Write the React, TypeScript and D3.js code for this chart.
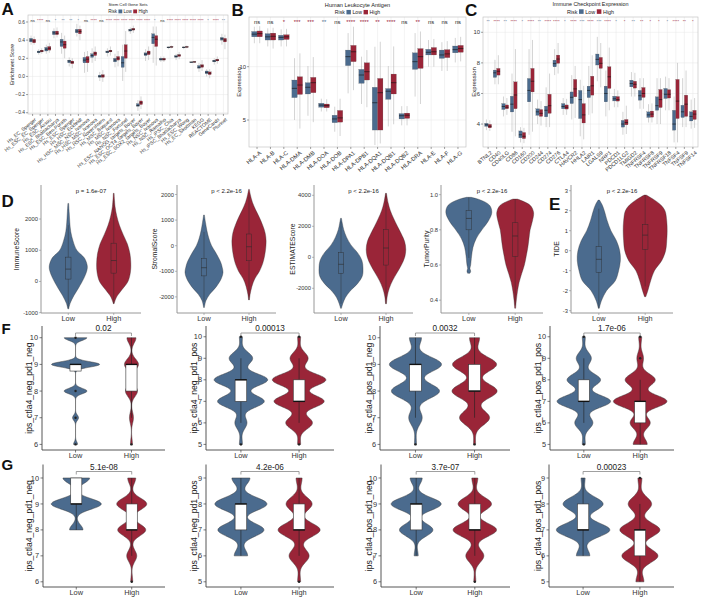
import React from "react";
import * as d3 from "d3";

const FONT = "'Liberation Sans', Arial, Helvetica, sans-serif";
const LOW_COL = "#4B6B8E";
const HIGH_COL = "#9A2538";
const GROUPS = ["Low", "High"];

/* ---------------- A : Stem Cell Gene Sets ---------------- */
const A_SETS = [
  "Hs_EC_Sperger", "Hs_ESC_EC_Sperger", "Hs_ESC_Assou", "Hs_ESC_Bhattacharya", "Hs_ESC_Ben-Porath",
  "Hs_ESC_Sperger", "Hs_HSC_Eckfeldt", "Hs_HSC_MSC_NSC_Ivanova", "Hs_HSC_MSC_Ivanova", "Hs_HSC_Novershtern",
  "Hs_MSC_Boquest", "Hs_MSC_Ivanova", "Hs_NSC_Fortunel", "Hs_ESC_NANOG_targets_Boyer", "Hs_ESC_OCT4_targets_Boyer",
  "Hs_ESC_SOX2_targets_Boyer", "Hs_NSC_Ivanova", "Hs_NSC_Ramalho", "Hs_iPSC_Chia", "Hs_iPSC_Bhattacharya",
  "Hs_ESC_Wong", "Hs_EC_Skottman", "KEGG", "REACTOME", "GeneCards", "Plurinet",
];
// [whisker low, q1, median, q3, whisker high]
const A_LOW = [
  [0.35, 0.38, 0.40, 0.42, 0.45], [0.24, 0.26, 0.27, 0.28, 0.30], [0.25, 0.28, 0.30, 0.32, 0.35],
  [0.42, 0.46, 0.48, 0.50, 0.53], [0.25, 0.33, 0.38, 0.41, 0.48], [0.11, 0.15, 0.17, 0.18, 0.21],
  [0.44, 0.48, 0.50, 0.52, 0.58], [0.04, 0.15, 0.18, 0.21, 0.27], [0.15, 0.21, 0.23, 0.25, 0.31],
  [-0.05, -0.01, 0.0, 0.015, 0.05], [0.22, 0.26, 0.27, 0.28, 0.31], [0.10, 0.16, 0.18, 0.20, 0.25],
  [-0.05, 0.10, 0.15, 0.22, 0.35], [0.47, 0.50, 0.51, 0.52, 0.54], [-0.38, -0.33, -0.32, -0.30, -0.26],
  [0.17, 0.23, 0.245, 0.26, 0.30], [0.15, 0.36, 0.43, 0.47, 0.55], [0.16, 0.18, 0.19, 0.20, 0.22],
  [0.30, 0.315, 0.32, 0.325, 0.33], [0.18, 0.21, 0.22, 0.23, 0.25], [0.30, 0.315, 0.32, 0.325, 0.335],
  [0.15, 0.155, 0.157, 0.16, 0.165], [0.05, 0.09, 0.10, 0.12, 0.15], [0.0, 0.03, 0.045, 0.06, 0.08],
  [0.13, 0.16, 0.17, 0.18, 0.20], [0.35, 0.40, 0.415, 0.43, 0.47],
];
const A_HIGH = [
  [0.35, 0.37, 0.39, 0.41, 0.44], [0.25, 0.27, 0.28, 0.29, 0.31], [0.26, 0.29, 0.31, 0.33, 0.37],
  [0.43, 0.46, 0.475, 0.50, 0.54], [0.20, 0.31, 0.35, 0.39, 0.45], [0.09, 0.14, 0.155, 0.17, 0.20],
  [0.40, 0.47, 0.495, 0.52, 0.56], [0.05, 0.15, 0.19, 0.22, 0.28], [0.17, 0.23, 0.255, 0.27, 0.33],
  [-0.06, -0.01, 0.005, 0.02, 0.07], [0.23, 0.27, 0.28, 0.29, 0.33], [0.11, 0.18, 0.20, 0.22, 0.28],
  [0.05, 0.20, 0.28, 0.35, 0.50], [0.48, 0.51, 0.52, 0.53, 0.56], [-0.36, -0.31, -0.29, -0.27, -0.22],
  [0.18, 0.24, 0.26, 0.28, 0.33], [0.12, 0.33, 0.41, 0.45, 0.55], [0.16, 0.18, 0.19, 0.20, 0.22],
  [0.31, 0.32, 0.325, 0.33, 0.34], [0.19, 0.22, 0.235, 0.24, 0.27], [0.31, 0.32, 0.325, 0.33, 0.34],
  [0.15, 0.155, 0.16, 0.165, 0.17], [0.06, 0.10, 0.115, 0.13, 0.18], [-0.02, 0.02, 0.035, 0.05, 0.08],
  [0.14, 0.17, 0.18, 0.19, 0.22], [0.30, 0.38, 0.40, 0.42, 0.46],
];
const A_SIG = ["ns", "****", "ns", "*", "**", "**", "*", "ns", "****", "ns", "****", "****", "****",
  "****", "****", "****", "*", "ns", "****", "****", "****", "****", "****", "*", "****", "**"];
const A_TICKS = [-0.4, -0.2, 0, 0.2, 0.4, 0.6];

/* ---------------- B : Human Leukocyte Antigen ---------------- */
const B_GENES = ["HLA-A", "HLA-B", "HLA-C", "HLA-DMA", "HLA-DMB", "HLA-DOA", "HLA-DOB", "HLA-DPA1",
  "HLA-DPB1", "HLA-DQA1", "HLA-DQB1", "HLA-DQB2", "HLA-DRA", "HLA-E", "HLA-F", "HLA-G"];
const B_LOW = [
  [12.2, 12.8, 13.05, 13.3, 13.75], [11.9, 12.5, 12.8, 13.1, 13.6], [11.9, 12.5, 12.75, 12.95, 13.5],
  [5.0, 7.1, 7.97, 8.75, 10.8], [5.4, 7.44, 8.07, 8.5, 10.06], [5.8, 6.2, 6.4, 6.57, 7.0],
  [3.9, 4.75, 5.1, 5.45, 6.25], [7.5, 10.1, 10.94, 11.56, 13.15], [6.5, 8.44, 9.22, 9.75, 10.94],
  [2.65, 4.06, 6.62, 8.07, 11.87], [4.4, 6.94, 7.7, 7.95, 10.06], [4.5, 5.1, 5.4, 5.6, 6.3],
  [7.2, 9.75, 10.47, 11.3, 13.15], [10.0, 11.1, 11.35, 11.63, 12.5], [9.6, 10.78, 11.1, 11.56, 12.3],
  [10.4, 11.3, 11.6, 11.94, 12.7],
];
const B_HIGH = [
  [12.2, 12.8, 13.1, 13.35, 13.8], [11.7, 12.5, 12.85, 13.15, 13.65], [11.9, 12.55, 12.8, 13.0, 13.55],
  [4.2, 7.4, 8.28, 9.06, 11.25], [4.8, 7.56, 8.5, 9.0, 10.9], [5.8, 6.15, 6.35, 6.5, 6.95],
  [3.5, 4.8, 5.2, 5.9, 7.0], [7.8, 10.47, 11.4, 12.0, 13.75], [6.2, 8.75, 9.53, 10.37, 11.56],
  [2.8, 4.06, 7.56, 8.9, 12.34], [4.6, 7.44, 8.5, 9.31, 11.9], [4.5, 5.15, 5.45, 5.65, 6.3],
  [6.5, 9.84, 10.94, 11.7, 13.3], [10.0, 11.1, 11.4, 11.8, 12.6], [9.6, 10.85, 11.2, 11.6, 12.4],
  [10.5, 11.35, 11.7, 12.0, 12.8],
];
const B_SIG = ["ns", "ns", "*", "***", "***", "**", "ns", "****", "****", "**", "****", "ns", "**", "ns", "ns", "ns"];
const B_TICKS = [5, 10];

/* ---------------- C : Immune Checkpoint Expression ---------------- */
const C_GENES = ["BTNL2", "CD40", "CD40LG", "CD86", "CD160", "CD200", "CD244", "CD274", "CD276", "CTLA4",
  "HAVCR2", "HHLA2", "LAIR1", "LGALS9", "NRP1", "PDCD1", "PDCD1LG2", "TMIGD2", "TNFRSF4", "TNFRSF8",
  "TNFRSF9", "TNFRSF18", "TNFSF4", "TNFSF9", "TNFSF14"];
const C_LOW = [
  [3.6, 3.85, 3.95, 4.05, 4.3], [6.6, 7.05, 7.35, 7.53, 8.2], [4.5, 4.95, 5.15, 5.34, 5.8],
  [3.5, 4.79, 5.3, 5.82, 7.3], [2.8, 3.1, 3.3, 3.55, 3.8], [3.3, 5.45, 6.2, 6.98, 8.9],
  [4.0, 4.57, 4.8, 5.0, 5.6], [3.8, 4.47, 4.9, 5.17, 6.4], [7.2, 7.74, 7.95, 8.18, 8.9],
  [4.6, 5.0, 5.15, 5.34, 5.7], [4.3, 5.34, 5.75, 6.1, 7.2], [3.2, 4.36, 5.6, 6.2, 6.9],
  [4.6, 5.73, 6.2, 6.48, 7.8], [6.8, 7.86, 8.23, 8.58, 9.7], [4.5, 5.45, 6.0, 6.48, 7.5],
  [5.1, 5.51, 5.65, 5.82, 6.3], [3.3, 3.8, 4.0, 4.24, 4.8], [5.8, 6.43, 6.65, 6.87, 7.4],
  [5.0, 5.56, 5.85, 6.2, 7.0], [4.1, 4.43, 4.6, 4.8, 5.3], [4.0, 4.9, 5.2, 5.78, 7.0],
  [4.9, 5.67, 5.95, 6.33, 7.1], [2.8, 3.6, 4.0, 4.9, 5.8], [3.8, 4.43, 4.8, 5.23, 7.0],
  [3.7, 4.2, 4.5, 4.8, 5.6],
];
const C_HIGH = [
  [3.55, 3.75, 3.85, 3.98, 4.25], [6.6, 7.2, 7.45, 7.64, 8.5], [4.6, 5.0, 5.1, 5.25, 5.7],
  [3.2, 5.0, 5.9, 6.76, 8.9], [2.75, 3.05, 3.2, 3.45, 3.75], [3.5, 6.1, 6.8, 7.64, 9.5],
  [3.9, 4.5, 4.7, 4.95, 5.5], [3.8, 4.7, 5.2, 5.95, 7.3], [7.3, 7.97, 8.25, 8.51, 9.3],
  [4.6, 4.98, 5.1, 5.25, 5.65], [4.4, 5.78, 6.3, 6.92, 7.8], [3.0, 4.07, 4.6, 5.34, 6.5],
  [4.7, 5.89, 6.5, 7.13, 8.5], [6.4, 7.64, 7.97, 8.36, 9.3], [4.9, 6.33, 7.09, 7.75, 9.0],
  [5.1, 5.5, 5.6, 5.8, 6.2], [3.35, 3.95, 4.1, 4.3, 5.2], [5.8, 6.35, 6.6, 6.8, 7.35],
  [5.0, 5.74, 6.0, 6.39, 7.0], [4.1, 4.45, 4.65, 4.85, 5.35], [4.0, 5.08, 5.6, 6.26, 7.0],
  [4.9, 5.7, 5.95, 6.25, 7.0], [2.8, 4.36, 5.5, 6.92, 8.0], [3.8, 4.5, 5.3, 5.89, 7.5],
  [3.75, 4.3, 4.65, 4.9, 5.7],
];
const C_SIG = ["**", "****", "**", "****", "*", "****", "**", "****", "****", "*", "****", "***", "****",
  "***", "****", "*", "*", "**", "**", "*", "*", "*", "****", "**", "*"];
const C_TICKS = [4, 6, 8, 10];

/* ---------------- D / E : estimate scores & TIDE ---------------- */
// density profiles: [value, relative density]
const IMMUNE_LOW = [[-880, 0.02], [-700, 0.1], [-450, 0.3], [-200, 0.55], [100, 0.82], [350, 0.98], [500, 1.0],
  [750, 0.85], [1000, 0.45], [1300, 0.25], [1600, 0.13], [1900, 0.08], [2200, 0.05], [2500, 0.02]];
const IMMUNE_HIGH = [[-712, 0.02], [-500, 0.15], [-250, 0.45], [0, 0.75], [300, 0.88], [600, 0.9], [900, 0.85],
  [1200, 0.72], [1500, 0.5], [1800, 0.3], [2100, 0.16], [2400, 0.07], [2824, 0.02]];
const STROMAL_LOW = [[-2414, 0.02], [-2150, 0.1], [-1900, 0.3], [-1600, 0.65], [-1300, 0.9], [-1050, 1.0],
  [-850, 0.96], [-650, 0.88], [-450, 0.75], [-250, 0.6], [0, 0.4], [300, 0.25], [600, 0.15], [900, 0.08], [1200, 0.02]];
const STROMAL_HIGH = [[-2117, 0.02], [-1900, 0.06], [-1600, 0.15], [-1300, 0.3], [-1000, 0.55], [-700, 0.72],
  [-400, 0.82], [-100, 0.88], [200, 0.9], [500, 0.85], [800, 0.72], [1100, 0.55], [1400, 0.35], [1700, 0.18],
  [2000, 0.07], [2200, 0.02]];
const ESTIMATE_LOW = [[-3290, 0.02], [-3000, 0.08], [-2600, 0.2], [-2200, 0.4], [-1700, 0.75], [-1200, 0.97],
  [-700, 1.0], [-200, 0.95], [300, 0.75], [800, 0.45], [1300, 0.25], [1800, 0.12], [2200, 0.06], [2516, 0.02]];
const ESTIMATE_HIGH = [[-3000, 0.02], [-2500, 0.06], [-2000, 0.15], [-1500, 0.3], [-1000, 0.5], [-500, 0.7],
  [0, 0.85], [500, 0.9], [1000, 0.85], [1500, 0.7], [2000, 0.52], [2500, 0.35], [3000, 0.2], [3500, 0.1], [4129, 0.02]];
const PURITY_LOW = [[0.553, 0.05], [0.565, 0.08], [0.58, 0.05], [0.6, 0.08], [0.65, 0.12], [0.7, 0.18],
  [0.75, 0.32], [0.8, 0.57], [0.85, 0.85], [0.9, 1.0], [0.94, 0.9], [0.97, 0.5], [0.985, 0.1]];
const PURITY_HIGH = [[0.354, 0.02], [0.4, 0.05], [0.45, 0.1], [0.5, 0.17], [0.55, 0.28], [0.6, 0.4],
  [0.65, 0.48], [0.7, 0.55], [0.75, 0.6], [0.8, 0.65], [0.85, 0.75], [0.9, 0.8], [0.94, 0.65], [0.975, 0.1]];
const TIDE_LOW = [[-2.88, 0.02], [-2.5, 0.12], [-2, 0.35], [-1.5, 0.75], [-1, 0.9], [-0.5, 0.98], [0, 0.95],
  [0.5, 0.8], [1, 0.55], [1.5, 0.38], [2, 0.25], [2.3, 0.15], [2.53, 0.03]];
const TIDE_HIGH = [[-2.3, 0.03], [-2, 0.12], [-1.5, 0.25], [-1, 0.42], [-0.5, 0.75], [0, 0.93], [0.5, 0.98],
  [1, 1.0], [1.5, 0.98], [2, 0.9], [2.3, 0.7], [2.55, 0.4], [2.78, 0.05]];
// [whisker low, q1, median, q3, whisker high]
const IMMUNE_BOX = [[-850, 77, 396, 780, 1800], [-712, 268, 671, 1227, 2600]];
const STROMAL_BOX = [[-2200, -1180, -860, -490, 540], [-2117, -590, -40, 457, 2000]];
const ESTIMATE_BOX = [[-3000, -1032, -452, 297, 2290], [-3000, -500, 600, 1800, 4129]];
const PURITY_BOX = [[0.64, 0.80, 0.865, 0.91, 0.985], [0.37, 0.65, 0.765, 0.84, 0.975]];
const TIDE_BOX = [[-2.88, -1.08, -0.43, 0.2, 2.1], [-1.78, 0.07, 0.78, 1.3, 2.78]];

/* ---------------- F / G : IPS scores (relative frequency, % of samples per score) ---------------- */
const F1_LOW = [[6, 2], [7, 3], [8, 11.4], [9, 24], [10, 11.3]];
const F1_HIGH = [[6, 1], [7, 2], [8, 6], [9, 7], [10, 4.5]];
const F2_LOW = [[5, 1.5], [6, 6], [7, 23.3], [8, 26.7], [9, 11.7], [10, 1.5]];
const F2_HIGH = [[5, 1.5], [6, 13.3], [7, 25], [8, 26.7], [9, 9], [10, 1.5]];
const F3_LOW = [[6, 1], [7, 6.7], [8, 24], [9, 26], [10, 6]];
const F3_HIGH = [[6, 1], [7, 15], [8, 22.5], [9, 22], [10, 5]];
const F4_LOW = [[5, 1.5], [6, 9], [7, 26.7], [8, 16.7], [9, 7.5], [10, 1.5]];
const F4_HIGH = [[5, 7], [6, 10], [7, 26.7], [8, 15], [9, 3.3], [10, 1.5]];
const G1_LOW = [[8, 6.7], [9, 25], [10, 13.3]];
const G1_HIGH = [[6, 1], [7, 5], [8, 14], [9, 15], [10, 4]];
const G2_LOW = [[6, 6.7], [7, 23], [8, 26], [9, 9]];
const G2_HIGH = [[5, 1.5], [6, 10], [7, 21], [8, 13], [9, 3]];
const G3_LOW = [[7, 2], [8, 16.7], [9, 25], [10, 6]];
const G3_HIGH = [[6, 1], [7, 9], [8, 21.7], [9, 16.7], [10, 3]];
const G4_LOW = [[6, 6.7], [7, 26.7], [8, 20], [9, 2]];
const G4_HIGH = [[5, 4], [6, 18], [7, 20], [8, 11.7], [9, 2]];
// [q1, median, q3] for Low, High
const F_BOXES = [[[8.75, 9, 9], [8, 9, 9]], [[7, 8, 8], [7, 7, 8]], [[8, 9, 9], [8, 8, 9]], [[7, 7, 8], [6, 7, 7]]];
const G_BOXES = [[[9, 9, 10], [8, 8, 9]], [[7, 8, 8], [7, 7, 8]], [[8, 9, 9], [8, 8, 9]], [[7, 7, 8], [6, 7, 7]]];
const F_P = ["0.02", "0.00013", "0.0032", "1.7e-06"];
const G_P = ["5.1e-08", "4.2e-06", "3.7e-07", "0.00023"];
const IPS_NAMES = ["ips_ctla4_neg_pd1_neg", "ips_ctla4_neg_pd1_pos", "ips_ctla4_pos_pd1_neg", "ips_ctla4_pos_pd1_pos"];

/* ================= components ================= */

function Legend({ cx, y, fs }: any) {
  const sq = fs * 0.85, gap = fs * 0.3;
  const wRisk = fs * 1.95, wLow = fs * 1.84, wHigh = fs * 2.06;
  const total = wRisk + gap + sq + gap + wLow + gap + sq + gap + wHigh;
  let xx = cx - total / 2;
  const xRisk = xx; xx += wRisk + gap;
  const xS1 = xx; xx += sq + gap;
  const xLow = xx; xx += wLow + gap;
  const xS2 = xx; xx += sq + gap;
  const xHigh = xx;
  return (
    <g fontSize={fs} fill="#222">
      <text x={xRisk} y={y}>Risk</text>
      <rect x={xS1} y={y - sq * 0.92} width={sq} height={sq} fill={LOW_COL} />
      <text x={xLow} y={y}>Low</text>
      <rect x={xS2} y={y - sq * 0.92} width={sq} height={sq} fill={HIGH_COL} />
      <text x={xHigh} y={y}>High</text>
    </g>
  );
}

function BoxPanel(p: any) {
  const { frame, domain, ticks, fmt, cats, low, high, sig, title, titleY, legendY, yLabelX, f, sigY } = p;
  const [x0, x1, y0, y1] = frame;
  const x = d3.scalePoint<string>().domain(cats).range([x0, x1]).padding(0.6);
  const y = d3.scaleLinear().domain(domain).range([y1, y0]);
  const st = x.step();
  const bw = st * 0.4;
  const cx = (x0 + x1) / 2;
  const box = (s: number[], xc: number, col: string, key: string) => (
    <g key={key}>
      <line x1={xc} x2={xc} y1={y(s[0])} y2={y(s[4])} stroke="#a8a8a8" strokeWidth={0.5} />
      <rect x={xc - bw / 2} y={y(s[3])} width={bw} height={Math.max(0.8, y(s[1]) - y(s[3]))}
        fill={col} stroke="#555" strokeWidth={0.2} />
      <line x1={xc - bw / 2} x2={xc + bw / 2} y1={y(s[2])} y2={y(s[2])} stroke="#111" strokeWidth={0.6} />
    </g>
  );
  return (
    <g>
      <text x={cx} y={titleY} fontSize={f.title} textAnchor="middle" fill="#222">{title}</text>
      <Legend cx={cx} y={legendY} fs={f.legend} />
      <rect x={x0} y={y0} width={x1 - x0} height={y1 - y0} fill="#fff" />
      {ticks.map((t: number) => (
        <line key={"h" + t} x1={x0} x2={x1} y1={y(t)} y2={y(t)} stroke="#e6e6e6" strokeWidth={0.5} />
      ))}
      {cats.map((c: string) => (
        <line key={"v" + c} x1={x(c)} x2={x(c)} y1={y0} y2={y1} stroke="#e6e6e6" strokeWidth={0.5} />
      ))}
      {cats.map((c: string, i: number) => (
        <g key={"b" + c}>
          {box(low[i], (x(c) as number) - st * 0.2, LOW_COL, "l")}
          {box(high[i], (x(c) as number) + st * 0.2, HIGH_COL, "h")}
        </g>
      ))}
      <rect x={x0} y={y0} width={x1 - x0} height={y1 - y0} fill="none" stroke="#bdbdbd" strokeWidth={0.6} />
      {cats.map((c: string, i: number) => {
        const s = sig[i];
        const col = s === "ns" ? "#222" : high[i][2] > low[i][2] ? HIGH_COL : LOW_COL;
        return (
          <text key={"s" + c} x={x(c)} y={sigY} fontSize={f.sig} textAnchor="middle" fill={col}>{s}</text>
        );
      })}
      {ticks.map((t: number) => (
        <g key={"t" + t}>
          <line x1={x0 - 2} x2={x0} y1={y(t)} y2={y(t)} stroke="#444" strokeWidth={0.5} />
          <text x={x0 - 3} y={y(t)} dy="0.35em" fontSize={f.tick} textAnchor="end" fill="#333">{fmt(t)}</text>
        </g>
      ))}
      {cats.map((c: string) => (
        <g key={"x" + c}>
          <line x1={x(c)} x2={x(c)} y1={y1} y2={y1 + 2} stroke="#444" strokeWidth={0.5} />
          <text transform={`translate(${(x(c) as number) + f.xfs * 0.35},${y1 + 3.5}) rotate(-40)`}
            fontSize={f.xfs} textAnchor="end" dy="0.7em" fill="#333">{c}</text>
        </g>
      ))}
      <text transform={`translate(${yLabelX},${(y0 + y1) / 2}) rotate(-90)`} fontSize={f.ylab}
        textAnchor="middle" dy="0.35em" fill="#222">{p.yLabel}</text>
    </g>
  );
}

function violinArea(pts: number[][], cx: number, y: any, scale: number, curve: any) {
  return d3.area<number[]>()
    .y((d) => y(d[0]))
    .x0((d) => cx - d[1] * scale)
    .x1((d) => cx + d[1] * scale)
    .curve(curve)(pts as any) as string;
}

function DensityPanel(p: any) {
  const { frame, domain, ticks, fmt, title, titleX, pText, dens, boxes, vw } = p;
  const [x0, x1, y0, y1] = frame;
  const x = d3.scalePoint<string>().domain(GROUPS).range([x0, x1]).padding(0.6);
  const y = d3.scaleLinear().domain(domain).range([y1, y0]);
  const bw = x.step() * 0.12;
  const cols = [LOW_COL, HIGH_COL];
  return (
    <g>
      {GROUPS.map((g, i) => {
        const cx = x(g) as number;
        const s = boxes[i];
        return (
          <g key={g}>
            <path d={violinArea(dens[i], cx, y, vw, d3.curveCatmullRom.alpha(0.5))} fill={cols[i]}
              stroke="#2e2e2e" strokeWidth={0.35} />
            <line x1={cx} x2={cx} y1={y(s[0])} y2={y(s[1])} stroke="#2a2a2a" strokeWidth={0.4} />
            <line x1={cx} x2={cx} y1={y(s[3])} y2={y(s[4])} stroke="#2a2a2a" strokeWidth={0.4} />
            <rect x={cx - bw / 2} y={y(s[3])} width={bw} height={y(s[1]) - y(s[3])} fill="none"
              stroke="#2a2a2a" strokeWidth={0.4} />
            <line x1={cx - bw / 2} x2={cx + bw / 2} y1={y(s[2])} y2={y(s[2])} stroke="#2a2a2a" strokeWidth={0.6} />
          </g>
        );
      })}
      <line x1={x0} x2={x0} y1={y0} y2={y1} stroke="#8c8c8c" strokeWidth={0.9} />
      <line x1={x0} x2={x1} y1={y1} y2={y1} stroke="#8c8c8c" strokeWidth={0.9} />
      {ticks.map((t: number) => (
        <g key={t}>
          <line x1={x0 - 2} x2={x0} y1={y(t)} y2={y(t)} stroke="#8c8c8c" strokeWidth={0.6} />
          <text x={x0 - 3} y={y(t)} dy="0.35em" fontSize={5.8} textAnchor="end" fill="#333">{fmt(t)}</text>
        </g>
      ))}
      {GROUPS.map((g) => (
        <g key={"x" + g}>
          <line x1={x(g)} x2={x(g)} y1={y1} y2={y1 + 2} stroke="#8c8c8c" strokeWidth={0.6} />
          <text x={x(g)} y={y1 + 7.6} fontSize={7.3} textAnchor="middle" fill="#333">{g}</text>
        </g>
      ))}
      <text x={((x("Low") as number) + (x("High") as number)) / 2} y={192.5} fontSize={6} textAnchor="middle"
        fill="#222">{pText}</text>
      <text transform={`translate(${titleX},${(y0 + y1) / 2}) rotate(-90)`} fontSize={6.8} textAnchor="middle"
        dy="0.35em" fill="#222">{title}</text>
    </g>
  );
}

function kde(counts: number[][], bw: number) {
  const lo = counts[0][0];
  const hi = counts[counts.length - 1][0];
  return d3.range(lo, hi + 0.0001, 0.01).map((v) => {
    let d = 0;
    for (const [k, w] of counts) d += w * Math.exp(-((v - k) * (v - k)) / (2 * bw * bw));
    return [Math.min(v, hi), d];
  });
}

function IpsPanel(p: any) {
  const { frame, domain, title, titleX, pText, counts, boxes, bws } = p;
  const [x0, x1, y0, y1] = frame;
  const x = d3.scalePoint<string>().domain(GROUPS).range([x0, x1]).padding(0.6);
  const y = d3.scaleLinear().domain(domain).range([y1, y0]);
  const ticks = d3.range(Math.ceil(domain[0]), Math.floor(domain[1]) + 1);
  const bw = x.step() * 0.2;
  const cols = [LOW_COL, HIGH_COL];
  const bY = y0 + 7;
  const xl = x("Low") as number, xh = x("High") as number;
  return (
    <g>
      {GROUPS.map((g, i) => {
        const cx = x(g) as number;
        const cnt = counts[i];
        const [q1, med, q3] = boxes[i];
        const iqr = q3 - q1;
        const vals = cnt.map((c: number[]) => c[0]);
        const lw = d3.min(vals.filter((v: number) => v >= q1 - 1.5 * iqr)) as number;
        const uw = d3.max(vals.filter((v: number) => v <= q3 + 1.5 * iqr)) as number;
        const outs = vals.filter((v: number) => v < lw || v > uw);
        return (
          <g key={g}>
            <path d={violinArea(kde(cnt, bws[i]), cx, y, 1, d3.curveLinear)} fill={cols[i]} stroke="#3a3a3a"
              strokeWidth={0.5} />
            <line x1={cx} x2={cx} y1={y(lw)} y2={y(q1)} stroke="#222" strokeWidth={0.6} />
            <line x1={cx} x2={cx} y1={y(q3)} y2={y(uw)} stroke="#222" strokeWidth={0.6} />
            <rect x={cx - bw / 2} y={y(q3)} width={bw} height={Math.max(0.5, y(q1) - y(q3))} fill="#fff"
              stroke="#333" strokeWidth={0.6} />
            <line x1={cx - bw / 2} x2={cx + bw / 2} y1={y(med)} y2={y(med)} stroke="#111" strokeWidth={1.4} />
            {outs.map((v: number) => (
              <circle key={v} cx={cx} cy={y(v)} r={1.2} fill="#222" />
            ))}
          </g>
        );
      })}
      <path d={`M${xl},${bY + 3}V${bY}H${xh}V${bY + 3}`} fill="none" stroke="#777" strokeWidth={0.7} />
      <text x={(xl + xh) / 2} y={bY - 2} fontSize={8.2} textAnchor="middle" fill="#222">{pText}</text>
      <line x1={x0} x2={x0} y1={y0} y2={y1} stroke="#444" strokeWidth={0.9} />
      <line x1={x0} x2={x1} y1={y1} y2={y1} stroke="#444" strokeWidth={0.9} />
      {ticks.map((t: number) => (
        <g key={t}>
          <line x1={x0 - 2.5} x2={x0} y1={y(t)} y2={y(t)} stroke="#444" strokeWidth={0.7} />
          <text x={x0 - 4} y={y(t)} dy="0.35em" fontSize={7.4} textAnchor="end" fill="#333">{t}</text>
        </g>
      ))}
      {GROUPS.map((g) => (
        <g key={"x" + g}>
          <line x1={x(g)} x2={x(g)} y1={y1} y2={y1 + 2.5} stroke="#444" strokeWidth={0.7} />
          <text x={x(g)} y={y1 + 8.4} fontSize={7.4} textAnchor="middle" fill="#333">{g}</text>
        </g>
      ))}
      <text transform={`translate(${titleX},${(y0 + y1) / 2}) rotate(-90)`} fontSize={8.6} textAnchor="middle"
        dy="0.35em" fill="#222">{title}</text>
    </g>
  );
}

const Letter = ({ x, y, t, fs }: any) => (
  <text x={x} y={y} fontSize={fs} fontWeight="bold" fill="#111">{t}</text>
);

export default function App() {
  const fmtA = (t: number) => d3.format(".1f")(t);
  const fmtInt = (t: number) => String(t);
  const fmtP = (t: number) => d3.format(".1f")(t);
  const F_COUNTS = [[F1_LOW, F1_HIGH], [F2_LOW, F2_HIGH], [F3_LOW, F3_HIGH], [F4_LOW, F4_HIGH]];
  const G_COUNTS = [[G1_LOW, G1_HIGH], [G2_LOW, G2_HIGH], [G3_LOW, G3_HIGH], [G4_LOW, G4_HIGH]];
  const F_FRAMES = [[42, 165], [206, 334], [380, 510], [550, 674]];
  const G_FRAMES = [[43, 165], [206, 334], [381, 510], [549, 674]];
  const TITLE_X = [29, 194, 369, 538];
  const F_DOM = [[5.79, 10.44], [4.74, 10.5], [5.79, 10.44], [4.74, 10.5]];
  const G_DOM = [[5.8, 10.52], [4.8, 9.52], [5.8, 10.52], [4.8, 9.52]];
  const F_BW = [[0.1, 0.2], [0.28, 0.28], [0.27, 0.27], [0.28, 0.28]];
  const G_BW = [[0.2, 0.22], [0.25, 0.26], [0.24, 0.25], [0.26, 0.26]];
  return (
    <div style={{ position: "absolute", left: 0, top: 0 }}>
      <svg width={701} height={597} fontFamily={FONT} style={{ display: "block" }}>
        <rect width={701} height={597} fill="#fff" />
        <BoxPanel frame={[28, 228, 15, 114]} domain={[-0.414, 0.677]} ticks={A_TICKS} fmt={fmtA}
          cats={A_SETS} low={A_LOW} high={A_HIGH} sig={A_SIG} title="Stem Cell Gene Sets" titleY={6.3}
          legendY={13} yLabel="Enrichment Score" yLabelX={12} sigY={22}
          f={{ title: 4.2, legend: 4.5, sig: 4, tick: 4.9, xfs: 5.0, ylab: 5.2 }} />
        <BoxPanel frame={[249, 466, 17, 147]} domain={[2.47, 14.66]} ticks={B_TICKS} fmt={fmtInt}
          cats={B_GENES} low={B_LOW} high={B_HIGH} sig={B_SIG} title="Human Leukocyte Antigen" titleY={6.5}
          legendY={14} yLabel="Expression" yLabelX={238.5} sigY={24.3}
          f={{ title: 5.6, legend: 5.2, sig: 5.8, tick: 5.9, xfs: 5.8, ylab: 6 }} />
        <BoxPanel frame={[483, 698, 17, 147]} domain={[2.5, 11.0]} ticks={C_TICKS} fmt={fmtInt}
          cats={C_GENES} low={C_LOW} high={C_HIGH} sig={C_SIG} title="Immune Checkpoint Expression" titleY={6}
          legendY={13.5} yLabel="Expression" yLabelX={473.5} sigY={22.5}
          f={{ title: 5.4, legend: 5.4, sig: 4.2, tick: 5.9, xfs: 5.4, ylab: 6 }} />

        <DensityPanel frame={[41, 141, 185, 313]} domain={[-1010, 3090]} ticks={[-1000, 0, 1000, 2000]}
          fmt={fmtInt} title="ImmuneScore" titleX={16.5} pText="p = 1.6e-07" dens={[IMMUNE_LOW, IMMUNE_HIGH]}
          boxes={IMMUNE_BOX} vw={19} />
        <DensityPanel frame={[177, 276, 185, 313]} domain={[-2629, 2371]} ticks={[-2000, -1000, 0, 1000, 2000]}
          fmt={fmtInt} title="StromalScore" titleX={155} pText="p < 2.2e-16" dens={[STROMAL_LOW, STROMAL_HIGH]}
          boxes={STROMAL_BOX} vw={19} />
        <DensityPanel frame={[314, 413, 185, 313]} domain={[-3594, 4665]} ticks={[-2000, 0, 2000, 4000]}
          fmt={fmtInt} title="ESTIMATEScore" titleX={292.5} pText="p < 2.2e-16" dens={[ESTIMATE_LOW, ESTIMATE_HIGH]}
          boxes={ESTIMATE_BOX} vw={22} />
        <DensityPanel frame={[441, 543, 185, 313]} domain={[0.327, 1.055]} ticks={[0.4, 0.6, 0.8, 1.0]}
          fmt={fmtP} title="TumorPurity" titleX={426.5} pText="p < 2.2e-16" dens={[PURITY_LOW, PURITY_HIGH]}
          boxes={PURITY_BOX} vw={23} />
        <DensityPanel frame={[571, 673, 185, 313]} domain={[-3.115, 3.285]} ticks={[-3, -2, -1, 0, 1, 2, 3]}
          fmt={fmtInt} title="TIDE" titleX={556.5} pText="p < 2.2e-16" dens={[TIDE_LOW, TIDE_HIGH]}
          boxes={TIDE_BOX} vw={22} />

        {F_COUNTS.map((c, i) => (
          <IpsPanel key={"F" + i} frame={[F_FRAMES[i][0], F_FRAMES[i][1], 326, 450]} domain={F_DOM[i]}
            title={IPS_NAMES[i]} titleX={TITLE_X[i]} pText={F_P[i]} counts={c} boxes={F_BOXES[i]} bws={F_BW[i]} />
        ))}
        {G_COUNTS.map((c, i) => (
          <IpsPanel key={"G" + i} frame={[G_FRAMES[i][0], G_FRAMES[i][1], 464.5, 587]} domain={G_DOM[i]}
            title={IPS_NAMES[i]} titleX={TITLE_X[i]} pText={G_P[i]} counts={c} boxes={G_BOXES[i]} bws={G_BW[i]} />
        ))}

        <Letter x={1.5} y={15} t="A" fs={17} />
        <Letter x={231.5} y={15.5} t="B" fs={17} />
        <Letter x={465} y={15.5} t="C" fs={17} />
        <Letter x={1.5} y={206.5} t="D" fs={17} />
        <Letter x={549} y={210} t="E" fs={17} />
        <Letter x={1.5} y={334} t="F" fs={15} />
        <Letter x={1.5} y={470} t="G" fs={15} />
      </svg>
    </div>
  );
}
